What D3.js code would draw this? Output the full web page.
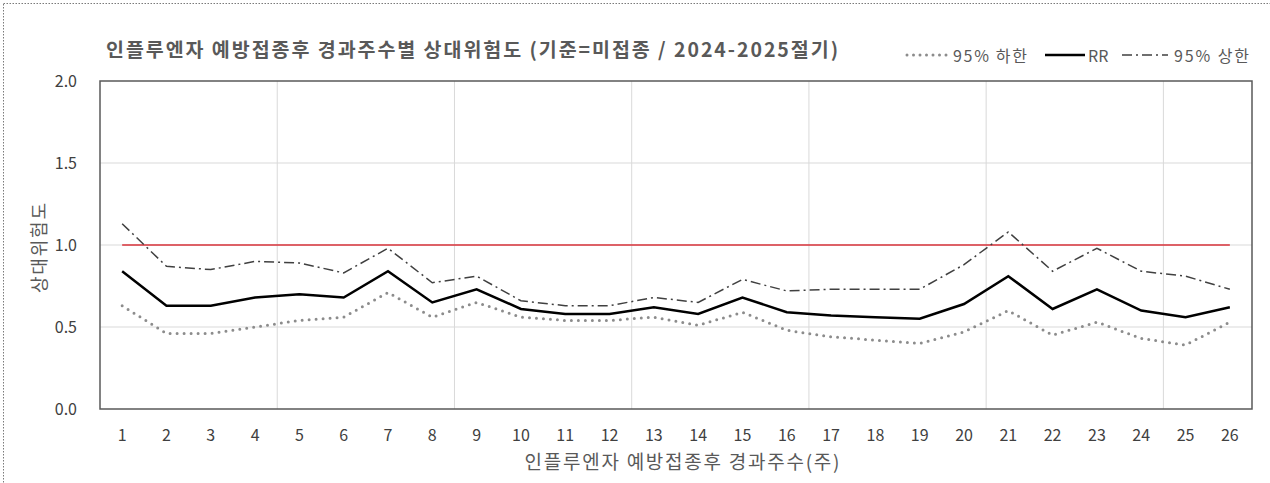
<!DOCTYPE html>
<html>
<head>
<meta charset="utf-8">
<script src="https://cdn.jsdelivr.net/npm/d3@7"></script>
<style>
  html, body { margin: 0; padding: 0; background: #fff; }
  svg { display: block; }
  text { font-family: "Noto Sans CJK KR", "Noto Sans", sans-serif; }
</style>
</head>
<body>
<svg id="chart" width="1270" height="483"></svg>
<script>
// Weeks after influenza vaccination
const weeks = d3.range(1, 27).map(String);

// Relative risk (reference = unvaccinated), 2024-2025 season
const rr = [0.84, 0.63, 0.63, 0.68, 0.70, 0.68, 0.84, 0.65, 0.73, 0.61, 0.58, 0.58, 0.62,
            0.58, 0.68, 0.59, 0.57, 0.56, 0.55, 0.64, 0.81, 0.61, 0.73, 0.60, 0.56, 0.62];
const lower95 = [0.63, 0.46, 0.46, 0.50, 0.54, 0.56, 0.71, 0.56, 0.65, 0.56, 0.54, 0.54, 0.56,
                 0.51, 0.59, 0.48, 0.44, 0.42, 0.40, 0.47, 0.60, 0.45, 0.53, 0.43, 0.39, 0.53];
const upper95 = [1.13, 0.87, 0.85, 0.90, 0.89, 0.83, 0.98, 0.77, 0.81, 0.66, 0.63, 0.63, 0.68,
                 0.65, 0.79, 0.72, 0.73, 0.73, 0.73, 0.88, 1.08, 0.84, 0.98, 0.84, 0.81, 0.73];
// Reference level RR = 1
const baseline = weeks.map(() => 1.0);

const yTicks = [0, 0.5, 1.0, 1.5, 2.0];

const titleText = "인플루엔자 예방접종후 경과주수별 상대위험도 (기준=미접종  / 2024-2025절기)";
const xTitle = "인플루엔자 예방접종후 경과주수(주)";
const yTitle = "상대위험도";
const legendLabels = ["95% 하한", "RR", "95% 상한"];

const svg = d3.select("#chart");
const plot = { left: 100, right: 1252, top: 81, bottom: 409 };

const x = d3.scaleBand().domain(weeks).range([plot.left, plot.right]).padding(0);
const y = d3.scaleLinear().domain([0, 2]).range([plot.bottom, plot.top]);
const cx = w => x(w) + x.bandwidth() / 2;

// outer dotted frame
svg.append("rect")
  .attr("x", 3.5).attr("y", 3.5).attr("width", 1280).attr("height", 500)
  .attr("fill", "none").attr("stroke", "#7a7a7a").attr("stroke-width", 1)
  .attr("stroke-dasharray", "1.5 1.5");

// horizontal gridlines
svg.append("g").selectAll("line")
  .data(yTicks.filter(v => v > 0 && v < 2))
  .join("line")
  .attr("x1", plot.left).attr("x2", plot.right)
  .attr("y1", d => y(d)).attr("y2", d => y(d))
  .attr("stroke", "#d9d9d9").attr("stroke-width", 1);

// vertical gridlines every 4 weeks
svg.append("g").selectAll("line")
  .data(weeks.filter((w, i) => i > 0 && i % 4 === 0))
  .join("line")
  .attr("x1", d => x(d)).attr("x2", d => x(d))
  .attr("y1", plot.top).attr("y2", plot.bottom)
  .attr("stroke", "#d9d9d9").attr("stroke-width", 1);

// plot frame
svg.append("rect")
  .attr("x", plot.left).attr("y", plot.top)
  .attr("width", plot.right - plot.left).attr("height", plot.bottom - plot.top)
  .attr("fill", "none").attr("stroke", "#595959").attr("stroke-width", 1.5);

// axes
const yAxis = svg.append("g")
  .attr("transform", `translate(${plot.left},0)`)
  .call(d3.axisLeft(y).tickValues(yTicks).tickFormat(d3.format(".1f")).tickSize(0).tickPadding(23));
yAxis.select(".domain").remove();
yAxis.selectAll("text")
  .attr("font-size", 16).attr("fill", "#404040")
  .style("font-family", "\"Noto Sans CJK KR\", sans-serif");

const xAxis = svg.append("g")
  .attr("transform", `translate(0,${plot.bottom})`)
  .call(d3.axisBottom(x).tickSize(0));
xAxis.select(".domain").remove();
xAxis.selectAll("text")
  .attr("y", 32).attr("dy", null)
  .attr("font-size", 16).attr("fill", "#404040")
  .style("font-family", "\"Noto Sans CJK KR\", sans-serif");

// series
const line = d3.line().x((d, i) => cx(weeks[i])).y(d => y(d));

svg.append("path").datum(baseline)
  .attr("d", line).attr("fill", "none")
  .attr("stroke", "#d8333b").attr("stroke-width", 1.5);

svg.append("path").datum(upper95)
  .attr("d", line).attr("fill", "none")
  .attr("stroke", "#404040").attr("stroke-width", 1.5)
  .attr("stroke-dasharray", "10 4 2 4");

svg.append("path").datum(lower95)
  .attr("d", line).attr("fill", "none")
  .attr("stroke", "#8c8c8c").attr("stroke-width", 3)
  .attr("stroke-linecap", "round")
  .attr("stroke-dasharray", "0 7");

svg.append("path").datum(rr)
  .attr("d", line).attr("fill", "none")
  .attr("stroke", "#000000").attr("stroke-width", 2.5)
  .attr("stroke-linejoin", "miter");

// title
svg.append("text")
  .attr("x", 106).attr("y", 57)
  .attr("font-size", 19.5).attr("font-weight", "bold").attr("fill", "#595959")
  .attr("textLength", 732).attr("lengthAdjust", "spacing")
  .text(titleText);

// axis titles
svg.append("text")
  .attr("transform", "translate(46,248) rotate(-90)")
  .attr("text-anchor", "middle")
  .attr("font-size", 18).attr("fill", "#595959")
  .attr("textLength", 90).attr("lengthAdjust", "spacing")
  .text(yTitle);

svg.append("text")
  .attr("x", 682).attr("y", 469)
  .attr("text-anchor", "middle")
  .attr("font-size", 19).attr("fill", "#595959")
  .attr("textLength", 315).attr("lengthAdjust", "spacing")
  .text(xTitle);

// legend
const legY = 55;
const legend = svg.append("g");
const legendItems = [
  { x1: 907, x2: 950, tx: 953, tl: 74, stroke: "#8c8c8c", w: 3, dash: "0 6.5", cap: "round" },
  { x1: 1045, x2: 1085, tx: 1088, tl: null, stroke: "#000000", w: 2.5, dash: null, cap: "butt" },
  { x1: 1122, x2: 1168, tx: 1174, tl: 75, stroke: "#404040", w: 1.5, dash: "10 4 2 4", cap: "butt" }
];
legendItems.forEach((it, i) => {
  legend.append("line")
    .attr("x1", it.x1).attr("x2", it.x2).attr("y1", legY).attr("y2", legY)
    .attr("stroke", it.stroke).attr("stroke-width", it.w)
    .attr("stroke-dasharray", it.dash).attr("stroke-linecap", it.cap);
  const t = legend.append("text")
    .attr("x", it.tx).attr("y", legY + 7)
    .attr("font-size", 16).attr("fill", "#595959")
    .text(legendLabels[i]);
  if (it.tl) t.attr("textLength", it.tl).attr("lengthAdjust", "spacing");
});
</script>
</body>
</html>
